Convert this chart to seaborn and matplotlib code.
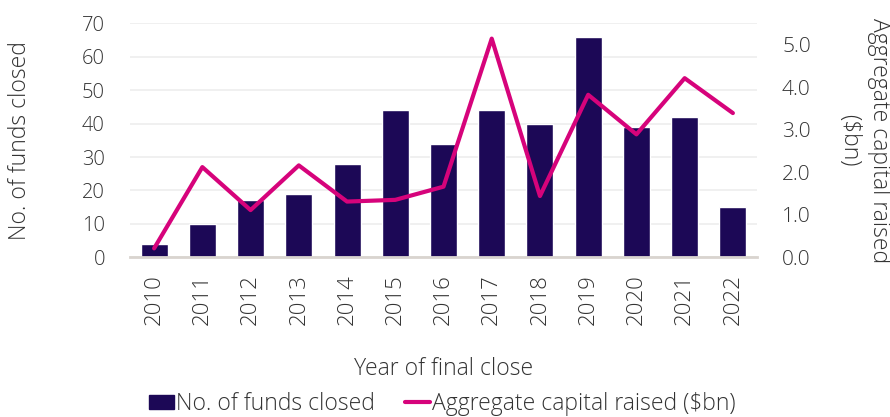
import matplotlib
matplotlib.use("Agg")
import matplotlib.pyplot as plt
import seaborn as sns
import pandas as pd
import numpy as np
from matplotlib.patches import Patch
from matplotlib.lines import Line2D

years = ["2010", "2011", "2012", "2013", "2014", "2015", "2016",
         "2017", "2018", "2019", "2020", "2021", "2022"]
funds_closed = [4, 10, 17, 19, 28, 44, 34, 44, 40, 66, 39, 42, 15]
capital_raised = [0.21, 2.12, 1.11, 2.16, 1.31, 1.35, 1.66, 5.14, 1.44, 3.82, 2.89, 4.21, 3.39]

bar_color = "#1c0856"
line_color = "#d6037b"
text_color = "#333333"

sns.set_theme(style="white")
plt.rcParams["font.family"] = ["Open Sans", "DejaVu Sans"]
plt.rcParams["font.weight"] = "light"
plt.rcParams["axes.labelweight"] = "light"

df = pd.DataFrame({"year": years, "funds": funds_closed, "capital": capital_raised})

fig = plt.figure(figsize=(8.9, 4.17), dpi=100)
ax = fig.add_axes([130 / 890, 1 - 257.3 / 417, (757 - 130) / 890, (257.3 - 23.3) / 417])

sns.barplot(data=df, x="year", y="funds", color=bar_color, width=0.56,
            saturation=1, ax=ax, zorder=2)
ax.set_ylim(0, 70)
ax.set_yticks(range(0, 71, 10))
ax.yaxis.grid(True, color="#eeeeee", linewidth=1.2, zorder=0)
ax.set_axisbelow(True)
for s in ["top", "right", "left"]:
    ax.spines[s].set_visible(False)
ax.spines["bottom"].set_color("#d9d4cf")
ax.spines["bottom"].set_linewidth(2)
ax.tick_params(axis="y", length=0, labelsize=14.5, labelcolor=text_color, pad=18)
ax.tick_params(axis="x", length=0, labelsize=16, labelcolor=text_color, rotation=90, pad=12)
ax.set_xlabel("Year of final close", fontsize=16.5, color=text_color, labelpad=23,
              fontweight="light")
ax.set_ylabel("No. of funds closed", fontsize=16.5, color=text_color, labelpad=36,
              fontweight="light")

ax2 = ax.twinx()
sns.lineplot(x=np.arange(len(years)), y=capital_raised, color=line_color,
             linewidth=3, ax=ax2, zorder=3)
ax2.set_ylim(0, 5.5)
ax2.set_yticks(np.arange(0, 5.01, 1.0))
ax2.set_yticklabels([f"{v:.1f}" for v in np.arange(0, 5.01, 1.0)])
for s in ["top", "right", "left", "bottom"]:
    ax2.spines[s].set_visible(False)
ax2.tick_params(axis="y", length=0, labelsize=15, labelcolor=text_color, pad=18)
ax2.set_ylabel("Aggregate capital raised\n($bn)", fontsize=16.5, color=text_color,
               rotation=270, labelpad=58, linespacing=1.35, fontweight="light")
ax2.grid(False)
ax.set_xlim(-0.5, len(years) - 0.5)

handles = [Patch(facecolor=bar_color, edgecolor=bar_color),
           Line2D([0], [0], color=line_color, linewidth=3)]
labels = ["No. of funds closed", "Aggregate capital raised ($bn)"]
fig.legend(handles, labels, loc="lower center", bbox_to_anchor=(0.497, -0.047), ncol=2,
           frameon=False, handlelength=1.1, handleheight=0.6,
           handletextpad=0.1, columnspacing=1.3, labelcolor=text_color,
           prop={"weight": "light", "size": 16.5})

fig.savefig("out.png", dpi=100)
